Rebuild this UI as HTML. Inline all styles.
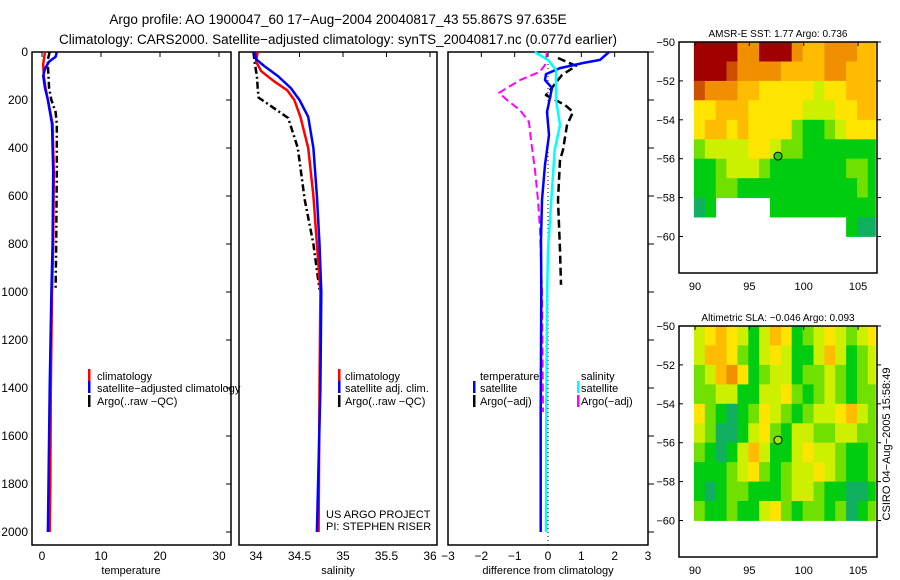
<!DOCTYPE html>
<html><head><meta charset="utf-8">
<style>
html,body{margin:0;padding:0;background:#fff;}
svg{display:block;font-family:"Liberation Sans",sans-serif;}
text{fill:#000;}
</style></head>
<body>
<svg id="chart" width="900" height="580" viewBox="0 0 900 580" xmlns="http://www.w3.org/2000/svg">
<text x="338" y="24" font-size="13.5" text-anchor="middle">Argo profile: AO 1900047_60 17−Aug−2004 20040817_43 55.867S 97.635E</text>
<text x="338" y="44" font-size="13.5" text-anchor="middle">Climatology: CARS2000. Satellite−adjusted climatology: synTS_20040817.nc (0.077d earlier)</text>
<g id="layer"></g>
</svg>
<script>
// ---------- profile data ----------
const tempClimDepth = [0,50,100,150,200,300,500,800,1000,1400,1800,2000];
const tempClim      = [0.5,0.2,0.3,0.6,1.0,1.8,2.0,1.9,1.7,1.5,1.4,1.3];
const tempSatDepth  = [0,20,40,70,100,150,200,300,500,800,1000,1400,1800,2000];
const tempSat       = [2.5,2.3,1.2,0.5,0.2,0.5,1.0,1.7,1.9,1.8,1.6,1.3,1.1,1.0];
const tempArgoDepth = [0,30,60,100,150,200,250,300,500,800,990];
const tempArgo      = [1.3,1.0,1.0,1.1,1.2,1.6,2.3,2.5,2.5,2.4,2.3];

const salClimDepth = [0,40,80,120,160,200,270,400,600,800,1000,1400,2000];
const salClim      = [34.02,34.0,34.06,34.2,34.36,34.44,34.51,34.6,34.66,34.7,34.74,34.73,34.72];
const salSatDepth  = [0,30,60,100,150,200,270,400,600,800,1000,1400,2000];
const salSat       = [33.98,34.0,34.1,34.25,34.4,34.5,34.6,34.66,34.7,34.73,34.75,34.74,34.7];
const salArgoDepth = [0,55,100,150,190,200,275,400,615,800,990];
const salArgo      = [33.97,33.99,34.01,34.02,34.03,34.07,34.37,34.48,34.56,34.66,34.73];

const dTempDepth = [0,33,46,67,92,117,150,250,346,470,616,783,1000,1500,2000];
const dTemp      = [1.83,1.56,1.05,0.36,-0.06,-0.09,0.12,-0.03,0.03,-0.09,-0.18,-0.21,-0.2,-0.22,-0.22];
const dSalDepth  = [0,33,75,200,304,408,616,825,1033,1500,2000];
const dSal       = [-0.4,0.0,0.24,0.24,0.36,0.2,0.1,0.0,-0.03,-0.05,-0.06];
const dTArgoDepth = [25,58,96,180,220,250,304,408,450,617,825,970];
const dTArgo      = [0.3,0.84,0.42,-0.06,0.5,0.75,0.57,0.45,0.36,0.3,0.36,0.39];
const dSArgoDepth = [0,54,83,117,170,200,242,292,367,492,617,742,1000,1500];
const dSArgo      = [-0.03,-0.09,-0.25,-0.84,-1.47,-1.23,-0.84,-0.57,-0.51,-0.39,-0.3,-0.24,-0.18,-0.15];

const depthTicks = [0,200,400,600,800,1000,1200,1400,1600,1800,2000];
const tempTicks = [0,10,20,30];
const salTicks = [34,34.5,35,35.5,36];
const salTickLabels = ["34","34.5","35","35.5","36"];
const diffTicks = [-3,-2,-1,0,1,2,3];
const diffTickLabels = ["−3","−2","−1","0","1","2","3"];

// ---------- map data (1° cells, rows lat -50..-59 top, cols lon 90..106; -1 = missing) ----------
const mapLons = [90,91,92,93,94,95,96,97,98,99,100,101,102,103,104,105,106];
const mapLats = [-50,-51,-52,-53,-54,-55,-56,-57,-58,-59];
const sstGrid = [
 [9,9,9,9,7,7,9,9,9,7,6,6,7,7,7,6,6],
 [9,9,9,8,7,7,7,7,6,6,6,6,7,7,6,6,6],
 [8,7,7,7,6,6,5,5,5,5,5,4,5,5,6,6,6],
 [5,5,6,6,6,5,5,5,5,5,4,4,4,5,5,6,6],
 [5,6,6,5,6,5,5,5,5,3,2,2,3,4,5,5,5],
 [3,4,4,4,4,5,5,4,3,3,2,2,2,2,2,2,2],
 [2,2,3,4,4,4,3,2,2,2,2,2,2,2,3,3,2],
 [2,2,3,3,2,2,2,2,2,2,2,2,2,2,2,3,2],
 [1,2,-1,-1,-1,-1,-1,2,2,2,2,2,2,2,2,2,2],
 [-1,-1,-1,-1,-1,-1,-1,-1,-1,-1,-1,-1,-1,-1,2,1,1]
];
const slaGrid = [
 [4,5,6,5,4,2,4,6,5,2,3,4,5,4,3,4,5],
 [4,6,6,5,3,2,4,5,4,2,2,4,6,4,2,3,4],
 [3,4,6,7,5,2,3,4,4,2,3,3,4,3,2,3,4],
 [3,3,4,4,2,2,4,4,5,3,2,3,4,3,2,3,3],
 [5,3,2,1,2,3,5,4,3,2,3,4,4,5,6,4,3],
 [4,3,1,1,2,4,5,3,2,4,4,3,3,4,4,3,3],
 [3,2,1,2,4,6,4,2,2,4,5,4,4,3,2,2,3],
 [2,2,2,3,4,5,3,2,3,4,4,5,4,3,2,2,3],
 [2,1,2,3,3,2,2,2,3,4,4,3,2,2,1,1,2],
 [3,2,2,3,2,2,4,5,3,2,3,3,2,3,1,2,3]
];
const argoLon = 97.635, argoLat = -55.867;
const latTicks = [-50,-52,-54,-56,-58,-60];
const lonTicks = [90,95,100,105];
const palette = {1:"#10b060",2:"#00cc10",3:"#70e000",4:"#ccf000",5:"#ffe400",6:"#ffbc00",7:"#f09000",8:"#cc5000",9:"#a00000"};

// ---------- drawing ----------
const NS="http://www.w3.org/2000/svg";
const layer=document.getElementById('layer');
function mk(tag,attrs,parent){const e=document.createElementNS(NS,tag);for(const k in attrs)e.setAttribute(k,attrs[k]);(parent||layer).appendChild(e);return e;}
const yDepth = d => 52 + d*0.24;

function panel(name,x0,x1,xmin,xmax){
  const sx = v => x0 + (v-xmin)/(xmax-xmin)*(x1-x0);
  const r=mk('rect',{x:x0,y:52,width:x1-x0,height:493,fill:'none',stroke:'#000','stroke-width':1.5});
  
  
  return sx;
}
function line(sx,vals,depths,color,w,dash,name){
  const pts=vals.map((v,i)=>sx(v).toFixed(1)+','+yDepth(depths[i]).toFixed(1)).join(' ');
  const p=mk('polyline',{points:pts,fill:'none',stroke:color,'stroke-width':w,'stroke-dasharray':dash||'none','stroke-linejoin':'round'});
  
  
}
function xticks(sx,ticks,labels,name){
  ticks.forEach((t,i)=>{
    const x=sx(t);
    mk('line',{x1:x,x2:x,y1:52,y2:57,stroke:'#000','stroke-width':1});
    const tx=mk('text',{x:x,y:560,'font-size':12,'text-anchor':'middle'});
    tx.textContent=labels?labels[i]:String(t);
    
    
  });
}
function txt(x,y,s,size,name,anchor){
  const t=mk('text',{x:x,y:y,'font-size':size,'text-anchor':anchor||'start'});
  t.textContent=s;
  
  
  return t;
}
function legBar(x,y,color,name){
  const b=mk('rect',{x:x,y:y-10,width:2.5,height:12,fill:color});
  
  
}

// panel 1 temperature
const sxT=panel('temperature-panel',32,231,-10/5.9,30+12/5.9);
depthTicks.forEach(d=>{
  const y=yDepth(d);
  mk('line',{x1:231,x2:226,y1:y,y2:y,stroke:'#000'});
  txt(28,y+4,String(d),12,'y-axis-tick-label','end');
});
xticks(sxT,tempTicks,null,'temperature-x');
line(sxT,tempArgo,tempArgoDepth,'#000',2.5,'7,3,2,3','temp-argo-line');
line(sxT,tempClim,tempClimDepth,'#f00',2.5,null,'temp-climatology-line');
line(sxT,tempSat,tempSatDepth,'#00f',2.5,null,'temp-satellite-line');
txt(131,574,'temperature',11,'temperature-axis-title','middle');
legBar(88,379,'#f00','legend-climatology-swatch'); txt(97,380,'climatology',11,'legend-climatology');
legBar(88,391,'#00f','legend-satellite-swatch'); txt(97,392,'satellite−adjusted climatology',11,'legend-satellite');
legBar(88,405,'#000','legend-argo-swatch'); txt(97,405,'Argo(..raw −QC)',11,'legend-argo');

// panel 2 salinity
const sxS=panel('salinity-panel',239,437,34-17/87,36+7/87);
xticks(sxS,salTicks,salTickLabels,'salinity-x');
line(sxS,salArgo,salArgoDepth,'#000',2.5,'7,3,2,3','sal-argo-line');
line(sxS,salClim,salClimDepth,'#f00',2.5,null,'sal-climatology-line');
line(sxS,salSat,salSatDepth,'#00f',2.5,null,'sal-satellite-line');
txt(338,574,'salinity',11,'salinity-axis-title','middle');
legBar(338,379,'#f00','legend2-climatology-swatch'); txt(345,380,'climatology',11,'legend2-climatology');
legBar(338,391,'#00f','legend2-satellite-swatch'); txt(345,392,'satellite adj. clim.',11,'legend2-satellite');
legBar(338,405,'#000','legend2-argo-swatch'); txt(345,405,'Argo(..raw −QC)',11,'legend2-argo');
txt(326,518,'US ARGO PROJECT',11,'project-label');
txt(326,530,'PI: STEPHEN RISER',11,'pi-label');

// panel 3 difference
const sxD=panel('difference-panel',448,648,-3,3);
depthTicks.forEach(d=>{const y=yDepth(d);mk('line',{x1:648,x2:654,y1:y,y2:y,stroke:'#000'});});
xticks(sxD,diffTicks,diffTickLabels,'difference-x');
const zl=mk('line',{x1:sxD(0),x2:sxD(0),y1:52,y2:545,stroke:'#000','stroke-width':1,'stroke-dasharray':'1,3'});


line(sxD,dTArgo,dTArgoDepth,'#000',2.5,'8,4','diff-temp-argo-line');
line(sxD,dSArgo,dSArgoDepth,'#f0f',2,'8,4','diff-sal-argo-line');
line(sxD,dTemp,dTempDepth,'#00f',2.5,null,'diff-temp-satellite-line');
line(sxD,dSal,dSalDepth,'#0ff',2.5,null,'diff-sal-satellite-line');
txt(548,574,'difference from climatology',11,'difference-axis-title','middle');
txt(480,380,'temperature',11,'legend3-temperature-header');
legBar(473,391,'#00f','legend3-temp-satellite-swatch'); txt(480,392,'satellite',11,'legend3-temp-satellite');
legBar(473,405,'#000','legend3-temp-argo-swatch'); txt(480,405,'Argo(−adj)',11,'legend3-temp-argo');
txt(581,380,'salinity',11,'legend3-salinity-header');
legBar(577,391,'#0ff','legend3-sal-satellite-swatch'); txt(581,392,'satellite',11,'legend3-sal-satellite');
legBar(577,405,'#f0f','legend3-sal-argo-swatch'); txt(581,405,'Argo(−adj)',11,'legend3-sal-argo');

// maps
function map(name,grid,top,title,dotFill){
  const sx = lon => 695 + (lon-90)*10.87;
  const sy = lat => top + (-50-lat)*19.45;
  const g=mk('g',{});
  
  
  grid.forEach((row,i)=>row.forEach((v,j)=>{
    if(v<0)return;
    const x0=sx(mapLons[j]-0.1), x1=Math.min(sx(mapLons[j]+0.9),sx(106.6));
    const c=mk('rect',{x:x0.toFixed(1),y:sy(mapLats[i]).toFixed(1),width:(x1-x0+0.4).toFixed(1),height:19.9,fill:palette[v]},g);
    
    
  }));
  const f=mk('rect',{x:679,y:top,width:198,height:231,fill:'none',stroke:'#000','stroke-width':1.5});
  
  
  latTicks.forEach(l=>{
    const y=sy(l);
    mk('line',{x1:877,x2:881,y1:y,y2:y,stroke:'#000'});
    mk('line',{x1:679,x2:683,y1:y,y2:y,stroke:'#000'});
    txt(675,y+4,String(l).replace('-','−'),11,name+'-lat-tick-label','end');
  });
  lonTicks.forEach(l=>{
    const x=sx(l);
    mk('line',{x1:x,x2:x,y1:top,y2:top+4,stroke:'#000'});
    txt(x,top+248,String(l),11,name+'-lon-tick-label','middle');
  });
  const d=mk('circle',{cx:sx(argoLon),cy:sy(argoLat),r:4,fill:dotFill,stroke:'#000','stroke-width':1});
  
  
  txt(778,top-5,title,10,name+'-title','middle');
}
map('sst-map',sstGrid,42,'AMSR-E SST: 1.77 Argo: 0.736','#30cc20');
map('sla-map',slaGrid,326,'Altimetric SLA: −0.046 Argo: 0.093','#a0e800');
const rt=txt(0,0,'CSIRO 04−Aug−2005 15:58:49',11,'timestamp-label','middle');
rt.setAttribute('transform','translate(890,444) rotate(-90)');
</script>
</body></html>
